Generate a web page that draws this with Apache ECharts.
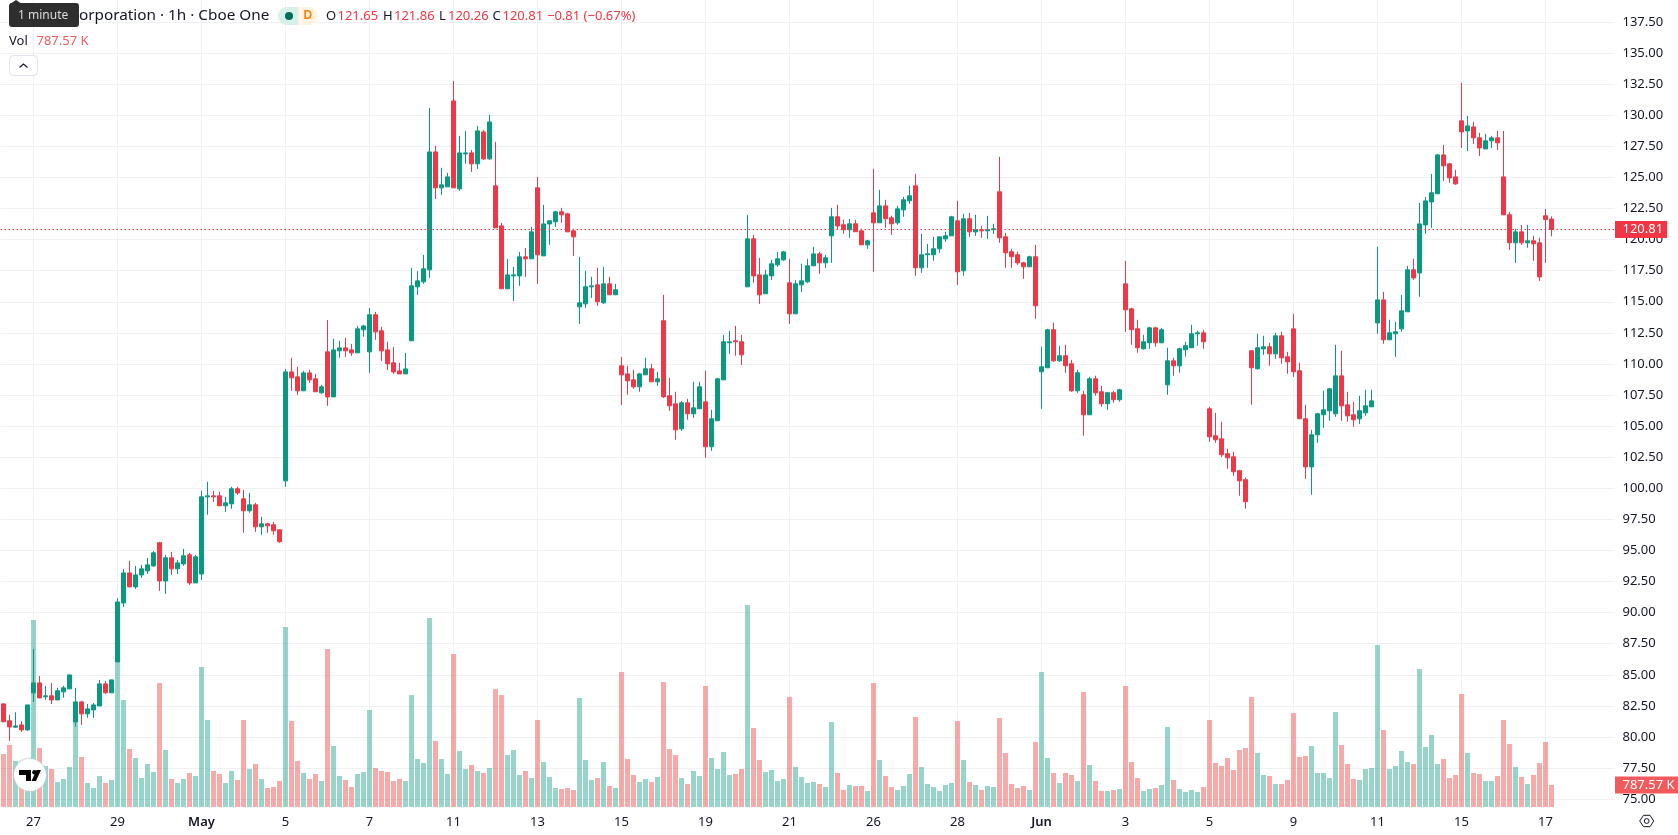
<!DOCTYPE html>
<html>
<head>
<meta charset="utf-8">
<style>html,body{margin:0;padding:0;background:#fff}#c{width:1678px;height:835px}</style>
<script src="https://cdn.jsdelivr.net/npm/echarts@6/dist/echarts.min.js"></script>
</head>
<body>
<div id="c"></div>
<script>
// Hourly candles, seven bars per session
const opens = [
82.66,81.30,80.79,80.97,80.57,83.55,84.35,83.23,83.31,82.98,83.63,83.87,81.22,82.82,81.86,82.18,82.50,84.27,83.55,86.04,
90.78,93.19,92.07,93.03,93.36,93.76,95.62,92.55,94.41,93.52,93.92,94.65,92.39,93.11,99.31,99.39,99.39,98.59,98.75,99.96,
99.15,98.19,98.67,96.90,97.14,97.06,96.66,100.60,109.36,108.96,107.84,109.28,108.80,107.68,110.97,107.35,111.05,111.29,111.13,110.89,
112.74,110.97,113.95,112.66,111.13,110.09,109.44,109.20,111.86,116.20,116.60,117.57,127.05,124.16,124.24,131.15,124.08,126.89,126.97,126.09,
128.66,126.49,124.32,121.10,116.04,117.08,117.08,118.61,118.45,124.16,118.69,121.26,121.43,122.23,122.07,120.70,114.59,114.83,116.20,116.36,
114.91,116.44,115.56,109.85,109.20,108.72,108.16,109.12,109.61,108.56,113.47,107.44,106.79,104.78,106.87,105.99,106.39,106.95,103.34,105.43,
108.72,111.70,111.86,111.78,116.20,120.06,117.16,115.64,117.08,117.97,118.37,116.52,114.03,116.36,116.60,117.89,118.85,118.13,120.30,121.83,
121.19,120.79,121.27,120.70,119.58,122.15,121.35,122.71,121.75,121.35,122.39,123.12,124.32,117.73,118.78,118.78,119.26,120.06,120.30,121.51,
117.49,121.67,120.62,120.79,120.70,120.79,123.84,120.22,119.02,118.78,118.13,117.81,118.62,109.37,109.69,112.75,110.25,110.66,110.01,107.84,
107.52,105.91,108.80,107.76,106.80,107.68,107.12,116.44,114.43,112.83,111.22,111.70,112.90,111.70,108.32,110.25,109.85,111.14,111.30,112.42,
112.50,106.39,104.22,103.98,102.78,102.53,101.41,100.69,111.06,109.61,111.21,111.38,110.81,112.26,110.57,112.82,109.45,105.59,101.72,104.30,
105.91,106.23,105.99,109.04,106.71,105.91,105.59,106.07,106.55,113.30,115.15,111.94,112.42,112.82,114.19,117.57,117.32,121.18,123.03,123.68,
126.81,126.09,125.04,129.55,128.74,129.06,128.18,127.29,127.94,128.18,125.04,121.99,119.74,120.62,119.74,119.90,119.74,121.91,121.65
];
const closes = [
81.22,80.81,80.89,80.57,82.58,84.35,83.14,83.31,82.98,83.71,83.95,84.99,82.82,81.86,82.26,82.58,84.27,83.55,84.59,90.86,
93.19,92.07,93.03,93.52,93.84,94.81,92.55,94.41,93.52,94.00,94.57,92.39,94.49,99.31,99.39,99.31,98.59,98.83,99.96,99.63,
98.19,98.67,96.90,97.14,96.98,96.58,95.70,109.36,108.88,107.84,109.28,108.72,107.76,108.16,107.35,111.13,111.29,111.05,110.89,112.82,
113.06,113.95,112.58,111.05,110.01,109.36,109.20,109.60,116.28,116.68,117.65,127.05,124.16,124.40,125.04,124.16,126.97,126.97,126.09,128.74,
126.49,129.46,120.94,116.04,117.16,117.16,118.61,118.45,120.62,118.77,121.26,121.51,122.23,121.99,120.62,120.22,114.91,116.20,116.28,115.00,
116.44,115.56,115.96,109.12,108.64,108.16,109.20,109.61,108.56,108.80,107.36,106.63,104.70,106.87,105.99,106.47,108.16,103.34,105.59,108.80,
111.78,111.78,111.78,110.73,120.06,117.08,115.56,117.16,118.05,118.45,119.01,114.03,116.44,116.68,117.89,118.85,118.13,118.53,121.83,121.10,
120.79,121.27,120.63,119.58,119.90,121.35,122.71,121.67,121.27,122.47,123.20,123.52,117.73,118.78,118.86,119.26,120.22,120.30,121.83,117.41,
121.67,120.62,120.79,120.70,120.79,120.87,120.14,118.94,118.62,118.13,117.81,118.62,114.67,109.77,112.75,110.25,110.66,109.85,107.84,109.29,
105.91,108.80,107.68,106.80,107.68,107.12,107.92,114.35,112.75,111.30,111.78,112.90,111.70,112.75,110.25,109.85,111.22,111.46,112.42,112.50,
111.78,104.14,103.90,102.70,102.45,101.33,100.60,98.92,109.69,111.30,111.38,110.81,112.26,110.49,110.17,109.37,105.59,101.72,104.30,105.99,
106.31,108.00,109.04,106.63,105.83,105.51,106.23,106.63,107.03,115.15,111.94,112.50,112.58,114.27,117.57,116.92,121.26,123.11,123.76,126.81,
125.93,124.96,124.48,128.66,129.14,128.18,127.37,127.94,128.18,127.78,121.99,119.74,120.62,119.74,119.90,119.66,117.00,121.62,120.81
];
const highs = [
82.72,81.78,81.99,81.27,82.58,87.08,84.91,84.11,84.35,83.95,84.11,84.99,83.95,82.90,82.66,82.74,84.59,84.51,84.59,91.18,
93.52,94.16,93.76,93.84,94.41,94.95,95.70,94.65,94.89,94.24,95.13,94.81,94.65,99.80,100.52,99.80,99.72,99.31,100.12,100.12,
99.88,99.63,98.83,97.71,97.22,97.30,96.66,109.60,110.49,109.77,109.44,109.52,109.20,108.32,113.54,112.02,111.86,112.10,111.61,113.06,
113.14,114.51,114.19,112.98,111.78,111.37,110.09,110.89,117.73,117.46,118.77,130.59,127.54,125.77,125.36,132.76,128.34,128.74,127.21,129.14,
128.82,130.03,127.86,121.34,118.45,117.81,119.01,119.33,121.02,125.04,122.79,121.51,122.31,122.55,122.15,120.86,118.61,117.49,117.00,117.73,
117.81,117.00,116.44,110.57,109.85,109.53,109.28,110.49,110.01,109.37,115.56,108.88,107.76,107.03,107.19,108.56,108.56,109.45,106.31,108.88,
112.34,112.66,113.06,112.34,121.99,120.38,118.53,117.57,118.37,119.01,119.09,118.45,116.76,118.05,118.45,119.42,119.01,118.77,122.55,122.79,
121.59,121.67,121.59,120.86,119.98,125.69,124.00,123.20,121.91,122.71,123.44,124.32,125.29,120.46,119.66,120.22,120.22,120.62,121.91,123.12,
122.07,122.15,121.99,121.11,121.91,121.27,126.65,120.54,119.26,119.02,118.21,118.70,119.58,111.38,112.83,113.31,111.46,111.54,110.33,109.53,
107.84,108.97,109.05,108.24,107.76,107.84,108.00,118.29,114.51,113.55,112.34,112.99,112.99,112.90,111.30,110.49,111.30,111.78,113.15,112.67,
112.75,106.55,106.07,105.35,103.18,102.94,101.49,100.85,111.06,112.42,112.26,111.70,112.50,112.58,110.97,114.03,110.09,106.71,104.70,106.07,
107.84,108.08,111.54,111.05,107.76,106.95,107.44,107.92,107.92,119.42,115.80,113.55,113.38,115.56,117.89,118.45,122.95,123.43,125.28,126.89,
127.61,126.17,125.61,132.60,129.95,129.47,128.58,128.50,128.34,128.74,128.74,122.23,120.86,121.18,121.18,120.30,120.14,122.47,121.86
];
const lows = [
81.20,79.69,80.76,80.41,80.49,82.82,83.14,82.98,82.66,82.98,83.15,83.87,80.81,80.97,81.54,81.54,82.50,83.47,83.55,86.04,
90.46,92.07,91.91,92.79,93.11,93.68,91.75,91.51,93.03,93.11,93.76,92.23,92.39,92.63,97.87,98.91,98.59,98.11,98.35,99.47,
96.42,98.03,96.50,96.26,96.42,96.26,95.62,100.12,107.84,107.51,107.84,108.48,107.76,107.59,106.63,107.35,110.49,110.57,110.65,110.89,
112.18,109.28,111.94,110.25,109.52,109.20,109.20,109.20,111.86,115.55,116.44,116.92,123.27,123.60,124.24,124.16,123.92,126.09,125.45,125.69,
126.41,126.41,120.94,116.04,116.04,115.07,116.28,117.00,118.45,116.44,118.69,119.58,121.02,121.34,120.62,118.69,113.22,114.51,115.31,114.67,
114.83,115.56,115.56,106.71,107.52,108.00,107.76,109.12,108.56,108.24,107.27,106.23,103.90,104.62,105.51,105.67,106.39,102.45,103.01,105.43,
108.72,110.81,110.65,109.93,116.20,116.52,114.83,115.64,116.76,117.81,118.29,113.22,114.03,115.80,116.52,117.89,117.24,117.73,118.13,120.78,
120.46,120.14,120.63,119.58,119.26,117.41,121.35,120.95,120.38,121.19,121.83,122.87,117.09,117.33,117.73,118.29,118.94,119.82,120.30,116.36,
117.09,120.22,120.30,120.14,120.06,120.46,119.74,117.73,117.73,117.97,116.85,117.81,113.63,106.39,109.69,110.17,110.17,109.29,107.76,107.68,
104.23,105.91,107.44,106.55,106.31,106.88,106.96,112.58,111.54,110.90,111.14,111.22,111.38,111.70,107.52,109.05,109.29,110.58,111.30,111.46,
111.22,103.74,103.66,102.53,101.57,101.01,99.40,98.36,106.72,109.53,110.73,109.85,110.41,110.01,109.21,108.96,105.59,100.76,99.47,103.66,
104.86,105.43,105.75,105.43,105.35,104.94,105.18,105.83,106.55,112.42,111.62,111.94,110.57,112.58,114.19,116.76,115.40,120.46,120.94,123.68,
124.72,124.56,124.40,127.37,127.13,127.70,126.73,127.29,127.37,127.21,121.99,119.17,118.13,119.58,119.34,118.29,116.68,118.13,120.26
];
// Volume per bar, in thousands
const volumes = [
1897,2219,1646,1432,1193,6693,2112,1467,1360,895,1002,1432,3114,1790,859,680,1109,859,966,5261,
3830,2076,1754,1038,1539,1253,4438,2040,1002,859,1002,1217,1109,5011,3114,1288,1181,859,1288,966,
3114,1360,1539,1002,680,716,931,6442,3078,1646,1217,1002,1181,931,5655,2183,1109,966,716,1181,
1253,3472,1396,1288,1253,931,1002,931,4008,1718,1575,6764,2362,1718,1181,5476,2004,1360,1503,1288,
1217,1396,4223,4008,1861,2040,1145,1288,1038,3114,1611,1074,680,644,680,608,3901,1682,966,1038,
1611,752,680,4832,1718,1145,895,1002,895,1074,4474,2076,1861,1038,823,1288,1109,4331,1754,1360,
1968,1145,1181,1360,7230,2827,1682,1253,1324,931,1002,3937,1432,1074,859,895,823,716,3042,1217,
608,787,752,752,573,4438,1682,1109,716,608,752,1181,3221,1432,823,716,573,787,859,3078,
1682,895,787,608,752,716,3185,1933,823,680,752,608,2326,4832,1754,1217,859,1217,1145,931,
4116,1503,931,573,573,608,644,4331,1611,1038,573,644,680,787,2863,966,644,537,608,537,
716,3114,1575,1467,1754,1324,2040,2112,3937,1933,1145,1109,823,823,966,3364,1790,1825,2183,1217,
1217,1038,3400,2219,1539,1002,966,1360,1396,5798,2756,1360,1467,2004,1611,1539,4939,2147,2577,1539,
1718,1038,1145,4044,1933,1217,1181,931,931,1109,3114,2255,1432,1074,823,1145,1575,2326,787.57
];
// Date captions on the time axis: every 14th bar, starting at bar 5
const tickLabels = ['27','29','May','5','7','11','13','15','19','21','26','28','Jun','3','5','9','11','15','17'];
const boldLabels = ['May','Jun'];
const firstTickBar = 5;
const barsPerTick = 14;
const slotCount = 269;            // 259 bars plus the empty slots on the right

const instrument = 'orporation · 1h · Cboe One';
const priceTicks = { min: 75, max: 137.5, step: 2.5 };
const volumeAxisMax = 28890;

const UP = '#089981', DOWN = '#f23645', VOL_UP = 'rgba(8,153,129,0.42)', VOL_DOWN = 'rgba(240,50,45,0.42)';
const INK = '#131722', GRID = '#f0f1f3', VOL_TAG = '#f25a5c';
const FONT = '"Noto Sans", sans-serif';

const n = opens.length;
const last = n - 1;
const categories = Array.from({ length: slotCount }, (_, i) => String(i));
const isTick = i => i >= firstTickBar && (i - firstTickBar) % barsPerTick === 0 &&
  (i - firstTickBar) / barsPerTick < tickLabels.length;
const fmt = v => v.toFixed(2);
const signed = v => (v < 0 ? '\u2212' : '+') + Math.abs(v).toFixed(2);

// Session change is measured against the previous bar's close
const change = closes[last] - closes[last - 1];
const changePct = change / closes[last - 1] * 100;

const text = (x, y, s, fill, size, extra) => ({
  type: 'text', silent: true, z: 100,
  style: Object.assign({ x, y, text: s, fill, font: size + 'px ' + FONT, textVerticalAlign: 'middle' }, extra || {})
});

// Legend strip: caption, status pill, OHLC readout, volume readout, collapse button
const legend = [
  text(79, 15.5, instrument, INK, 15.3),
  { type: 'rect', silent: true, z: 99, shape: { x: 278, y: 7, width: 40, height: 18, r: 9 }, style: { fill: '#fff3e3' } },
  { type: 'rect', silent: true, z: 99, shape: { x: 278, y: 7, width: 20, height: 18, r: [9, 0, 0, 9] }, style: { fill: '#d9efea' } },
  { type: 'circle', silent: true, z: 100, shape: { cx: 289, cy: 16, r: 4 }, style: { fill: '#006b5b' } },
  text(303.5, 16, 'D', '#ff8000', 13, { fontWeight: 600, font: '600 13px ' + FONT }),
  text(326, 16, 'O', INK, 13), text(337.5, 16, fmt(opens[last]), DOWN, 13),
  text(383, 16, 'H', INK, 13), text(394, 16, fmt(highs[last]), DOWN, 13),
  text(439, 16, 'L', INK, 13), text(448, 16, fmt(lows[last]), DOWN, 13),
  text(492.5, 16, 'C', INK, 13), text(502.5, 16, fmt(closes[last]), DOWN, 13),
  text(547, 16, signed(change) + ' (' + signed(changePct) + '%)', DOWN, 13),
  text(9, 41, 'Vol', INK, 13),
  text(36.5, 41, fmt(volumes[last]) + ' K', VOL_TAG, 13),
  { type: 'rect', silent: true, z: 99, shape: { x: 9.5, y: 55.5, width: 28, height: 20, r: 4 }, style: { fill: '#fff', stroke: '#e0e3eb', lineWidth: 1 } },
  { type: 'polyline', silent: true, z: 100, shape: { points: [[19.5, 67.5], [23.5, 64], [27.5, 67.5]] }, style: { fill: 'none', stroke: INK, lineWidth: 1.2 } },
  // interval hint
  { type: 'polygon', silent: true, z: 120, shape: { points: [[10, 4], [16, 0], [22, 4]] }, style: { fill: '#2e2e2e' } },
  { type: 'rect', silent: true, z: 120, shape: { x: 9, y: 3, width: 70, height: 24, r: 3 }, style: { fill: '#2e2e2e' } },
  Object.assign(text(18, 15.5, '1 minute', '#dcdcdc', 12), { z: 121 })
];

// Logo badge over the lower left corner and the settings glyph beside the time axis
const decorations = [
  { type: 'circle', silent: true, z: 110, shape: { cx: 30, cy: 775, r: 17.5 }, style: { fill: 'rgba(200,205,210,0.55)' } },
  { type: 'circle', silent: true, z: 111, shape: { cx: 30, cy: 775, r: 16 }, style: { fill: '#fff' } },
  { type: 'polygon', silent: true, z: 112, shape: { points: [[19, 770], [31, 770], [31, 781], [26, 781], [26, 775], [19, 775]] }, style: { fill: '#000' } },
  { type: 'circle', silent: true, z: 112, shape: { cx: 34.5, cy: 772.3, r: 2.3 }, style: { fill: '#000' } },
  { type: 'polygon', silent: true, z: 112, shape: { points: [[36.5, 770], [41, 770], [36, 781], [31.5, 781]] }, style: { fill: '#000' } },
  { type: 'polygon', silent: true, z: 100, shape: { points: [[1639.7, 821], [1643.5, 815.3], [1650, 815.3], [1653.7, 821], [1650, 826.7], [1643.5, 826.7]] }, style: { fill: 'none', stroke: INK, lineWidth: 1 } },
  { type: 'circle', silent: true, z: 100, shape: { cx: 1646.7, cy: 821, r: 2.4 }, style: { fill: 'none', stroke: INK, lineWidth: 1 } }
];

const tagLabel = (bg, formatter) => ({
  show: true, position: 'end', distance: 0.5, formatter, opacity: 1,
  color: '#fff', fontSize: 13, fontFamily: FONT, backgroundColor: bg,
  padding: [1, 4, 1, 7.5], lineHeight: 15
});

const chart = echarts.init(document.getElementById('c'), null, { renderer: 'canvas' });
chart.setOption({
  animation: false,
  backgroundColor: '#fff',
  textStyle: { fontFamily: FONT },
  grid: [
    { left: 0.5, right: 63.5, top: 21.96, bottom: 35.84 },
    { left: 0.5, right: 63.5, top: 0, bottom: 28 }
  ],
  xAxis: [
    { type: 'category', gridIndex: 0, data: categories, show: false, boundaryGap: true },
    {
      type: 'category', gridIndex: 1, data: categories, boundaryGap: true,
      axisLine: { show: false }, axisTick: { show: false },
      splitLine: { show: true, alignWithLabel: true, interval: isTick, lineStyle: { color: GRID, width: 1 } },
      axisLabel: {
        interval: isTick, margin: 9, color: INK, fontSize: 13, fontFamily: FONT,
        hideOverlap: false,
        formatter: v => {
          const s = tickLabels[(Number(v) - firstTickBar) / barsPerTick];
          return boldLabels.includes(s) ? '{b|' + s + '}' : s;
        },
        rich: { b: { fontWeight: 600, fontSize: 13, fontFamily: FONT, color: INK } }
      }
    }
  ],
  yAxis: [
    {
      type: 'value', gridIndex: 0, position: 'right', scale: true,
      min: priceTicks.min, max: priceTicks.max, interval: priceTicks.step,
      axisLine: { show: false }, axisTick: { show: false },
      splitLine: { show: true, lineStyle: { color: GRID, width: 1 } },
      axisLabel: { color: INK, fontSize: 13, fontFamily: FONT, margin: 8, formatter: fmt }
    },
    { type: 'value', gridIndex: 1, show: false, min: 0, max: volumeAxisMax, splitLine: { show: false } }
  ],
  series: [
    {
      name: 'Vol', type: 'bar', xAxisIndex: 1, yAxisIndex: 1, barWidth: 5, z: 2,
      data: volumes.map((v, i) => ({ value: v, itemStyle: { color: closes[i] >= opens[i] ? VOL_UP : VOL_DOWN } })),
      markLine: {
        silent: true, symbol: 'none', animation: false,
        lineStyle: { color: 'rgba(0,0,0,0)', width: 1 },
        label: tagLabel(VOL_TAG, p => fmt(p.value) + ' K'),
        data: [{ yAxis: volumes[last] }]
      }
    },
    {
      name: 'Price', type: 'candlestick', xAxisIndex: 0, yAxisIndex: 0, barWidth: 4, z: 3,
      data: opens.map((o, i) => [o, closes[i], lows[i], highs[i]]),
      itemStyle: { color: UP, color0: DOWN, borderColor: UP, borderColor0: DOWN, borderWidth: 1 },
      markLine: {
        silent: true, symbol: 'none', animation: false,
        lineStyle: { color: DOWN, width: 1, type: [1.5, 2.5] },
        label: tagLabel(DOWN, p => fmt(p.value)),
        data: [{ yAxis: closes[last] }]
      }
    }
  ],
  graphic: { elements: legend.concat(decorations) }
});
</script>
</body>
</html>
